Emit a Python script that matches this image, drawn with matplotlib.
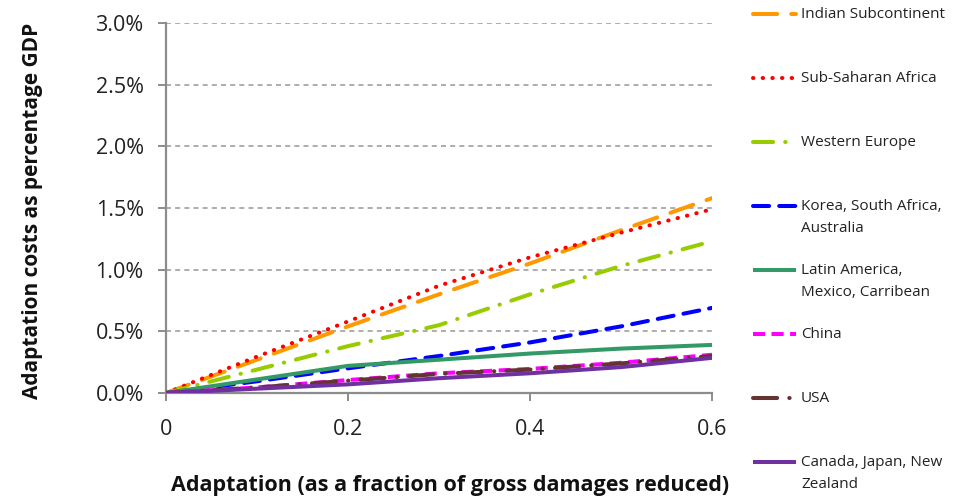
import matplotlib
matplotlib.use("Agg")
import matplotlib.pyplot as plt
from matplotlib.lines import Line2D
import numpy as np

plt.rcParams['font.family'] = ['Open Sans', 'DejaVu Sans']

adaptation = [0.0, 0.1, 0.2, 0.3, 0.4, 0.5, 0.6]
indian = [0.0, 0.27, 0.54, 0.80, 1.05, 1.32, 1.58]
ssa = [0.0, 0.295, 0.58, 0.87, 1.10, 1.30, 1.49]
w_europe = [0.0, 0.19, 0.38, 0.55, 0.80, 1.03, 1.23]
korea = [0.0, 0.095, 0.20, 0.30, 0.41, 0.54, 0.69]
latam = [0.0, 0.11, 0.22, 0.27, 0.32, 0.36, 0.39]
china = [0.0, 0.045, 0.105, 0.16, 0.195, 0.245, 0.31]
usa = [0.0, 0.045, 0.10, 0.155, 0.19, 0.24, 0.30]
canada = [0.0, 0.035, 0.07, 0.12, 0.16, 0.21, 0.285]

labels = ["Indian Subcontinent", "Sub-Saharan Africa", "Western Europe",
          "Korea, South Africa,\nAustralia", "Latin America,\nMexico, Carribean",
          "China", "USA", "Canada, Japan, New\nZealand"]
series = [indian, ssa, w_europe, korea, latam, china, usa, canada]
colors = ["#FF9900", "#FF0000", "#99CC00", "#0000FF", "#339966", "#FF00FF", "#663333", "#7030A0"]
styles = [(0, (6, 3.5)), (0, (0.1, 2.3)), (0, (5, 3, 0.1, 3)), (0, (4, 2.5)), '-',
          (0, (3, 1.6)), (0, (6, 3, 0.1, 3)), '-']
caps = ['round', 'round', 'round', 'round', 'butt', 'butt', 'round', 'butt']

fig = plt.figure(figsize=(9.58, 4.97), dpi=100)
ax = fig.add_axes([166/958, 1-393/497, (712-166)/958, (393-23)/497])

draw_order = [7, 6, 5, 4, 3, 2, 0, 1]
for i in draw_order:
    ax.plot(adaptation, series[i], color=colors[i], linestyle=styles[i], lw=2.9,
            dash_capstyle=caps[i], solid_capstyle='butt', zorder=3 + i * 0.01)

ax.set_xlim(0, 0.6)
ax.set_ylim(0, 3.0)
ax.set_xticks([0, 0.2, 0.4, 0.6])
ax.set_xticklabels(["0", "0.2", "0.4", "0.6"])
yt = [0.0, 0.5, 1.0, 1.5, 2.0, 2.5, 3.0]
ax.set_yticks(yt)
ax.set_yticklabels([f"{v:.1f}%" for v in yt])
for v in yt[1:]:
    ax.axhline(v, color="#A0A0A0", lw=1.2, linestyle=(0, (3, 2.5)), zorder=1)

for s in ['top', 'right']:
    ax.spines[s].set_visible(False)
for s in ['left', 'bottom']:
    ax.spines[s].set_color("#8C8C8C")
    ax.spines[s].set_linewidth(1.6)
ax.tick_params(axis='both', direction='out', length=6, width=1.4, color="#8C8C8C",
               labelsize=15.5, labelcolor="#222222")
ax.tick_params(axis='x', pad=13)
ax.tick_params(axis='y', pad=10)

fig.text(33/958, 1-211/497, "Adaptation costs as percentage GDP", rotation=90,
         ha='center', va='center', fontsize=15, fontweight='bold', color="#111111")
fig.text(450/958, 1-486/497, "Adaptation (as a fraction of gross damages reduced)",
         ha='center', va='center', fontsize=15.5, fontweight='bold', color="#111111")

# legend
lax = fig.add_axes([0, 0, 1, 1], facecolor='none')
lax.set_xlim(0, 958)
lax.set_ylim(497, 0)
lax.axis('off')
leg_y = [14, 78, 142, 206, 270, 334, 398, 462]
for i, y in enumerate(leg_y):
    lax.add_line(Line2D([753, 796], [y, y], color=colors[i], linestyle=styles[i], lw=2.9,
                        dash_capstyle=caps[i], solid_capstyle='butt'))
    lax.text(801, y - 7, labels[i], ha='left', va='top', fontsize=11, color="#222222",
             linespacing=1.62)

fig.savefig("out.png", dpi=100)
